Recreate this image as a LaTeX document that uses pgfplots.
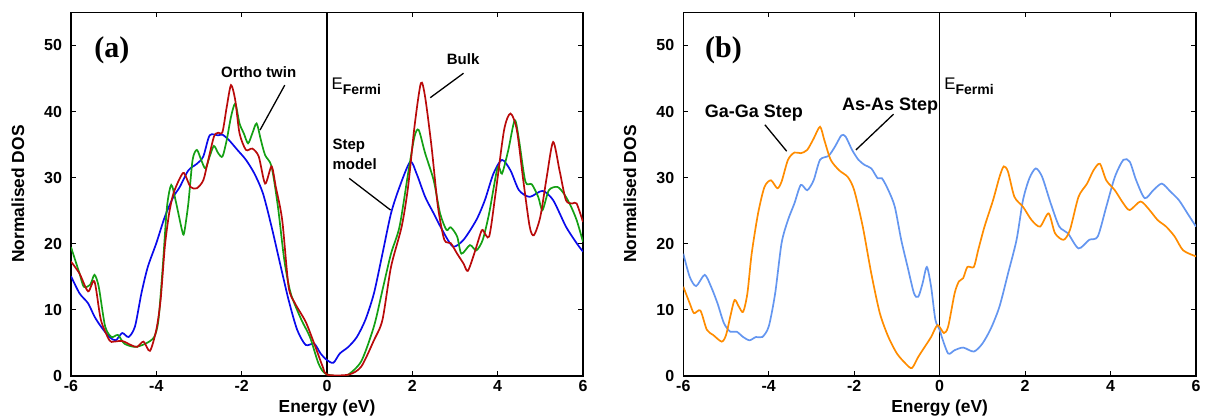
\documentclass[border=0pt]{standalone}
\usepackage{pgfplots}
\pgfplotsset{compat=1.18}
\usepackage{fontspec}
\setmainfont{Liberation Sans}
\newfontfamily\timesf{Liberation Serif}
\definecolor{bulkred}{RGB}{185,10,10}
\definecolor{orthogreen}{RGB}{20,160,20}
\definecolor{stepblue}{RGB}{10,10,235}
\definecolor{gaorange}{RGB}{255,140,0}
\definecolor{asblue}{RGB}{100,150,240}
\pgfplotsset{
  dosaxis/.style={
    scale only axis, height=181.8pt,
    xmin=-6, xmax=6, ymin=0, ymax=55,
    xtick={-6,-4,-2,0,2,4,6}, xticklabels={-6,-4,-2,0,2,4,6},
    ytick={0,10,20,30,40,50}, yticklabels={0,10,20,30,40,50},
    xtick pos=both, ytick pos=both,
    xticklabel pos=lower, yticklabel pos=left,
    tick align=inside, major tick length=2.5pt,
    axis line style={line width=0.75pt},
    every tick/.style={black, line width=0.6pt},
    tick label style={font=\bfseries\fontsize{8}{9}\selectfont},
    xticklabel style={yshift=1.5pt},
    yticklabel style={xshift=-1pt},
    anchor=south west,
    every axis plot/.append style={line width=0.85pt, smooth, tension=0.45, mark=none},
  },
}
\tikzset{ann/.style={font=\bfseries\fontsize{7.5}{9}\selectfont, inner sep=0pt},
         annb/.style={font=\bfseries\fontsize{9}{10}\selectfont, inner sep=0pt}}
\newcommand{\efermi}{{\fontsize{8.4}{10}\selectfont E\raisebox{-2.9pt}{\bfseries\fontsize{7}{8}\selectfont Fermi}}}
\begin{document}
\begin{tikzpicture}
\path[use as bounding box] (0,0) rectangle (604.5pt,208.5pt);
% ---------------- panel (a)
\begin{axis}[dosaxis, width=256pt, at={(35.5pt,20.5pt)}]
\addplot[black, line width=0.75pt, sharp plot] coordinates {(0,0) (0,55)};
% Step model (blue)
\addplot[stepblue] coordinates {
(-6,15.1) (-5.8,12.5) (-5.6,11) (-5.45,9) (-5.3,7.5) (-5.1,5.9) (-4.95,5.4) (-4.8,6.5) (-4.65,5.9) (-4.5,7.5)
(-4.35,12.5) (-4.2,16.5) (-4.0,20.1) (-3.8,24.1) (-3.6,27.1) (-3.45,28.6) (-3.25,31.1) (-3.05,32.1) (-2.9,33.2)
(-2.75,36.4) (-2.55,36.4) (-2.45,36.5) (-2.3,35.7) (-2.1,34.2) (-1.9,32.7) (-1.7,30.6) (-1.5,27.6) (-1.3,22.6)
(-1.1,17) (-0.9,11.5) (-0.7,7) (-0.5,4.7) (-0.3,4.9) (-0.15,3.4) (0,2.4) (0.15,2.0) (0.3,3.4) (0.5,4.4) (0.7,5.9)
(0.9,8.5) (1.1,12.5) (1.3,18.5) (1.5,24.6) (1.7,28.6) (1.95,32.4) (2.1,30.6) (2.3,27.1) (2.5,24.6) (2.7,22.1)
(2.95,19.6) (3.2,20.6) (3.5,23.6) (3.7,26.6) (3.9,30.6) (4.1,32.7) (4.3,31.1) (4.5,28.1) (4.75,27.1) (5.05,28)
(5.3,26.6) (5.6,22.6) (5.85,20.1) (6,18.8)};
% Ortho twin (green)
\addplot[orthogreen] coordinates {
(-6,19.5) (-5.8,15.5) (-5.7,13.5) (-5.55,13.8) (-5.45,15.3) (-5.35,13.5) (-5.2,7.5) (-5.05,5.9) (-4.9,6.2)
(-4.75,4.9) (-4.5,4.4) (-4.25,4.9) (-4.05,5.9) (-3.95,8.5) (-3.85,16.5) (-3.75,25.6) (-3.65,28.9) (-3.55,26.6)
(-3.4,22.1) (-3.35,21.6) (-3.25,26.1) (-3.15,32.7) (-3.05,34.2) (-2.95,32.7) (-2.85,31.4) (-2.75,33.2)
(-2.65,34.8) (-2.55,33.7) (-2.45,33.2) (-2.35,35.7) (-2.25,39.2) (-2.15,41.2) (-2.05,38.2) (-1.95,36.7)
(-1.85,35.2) (-1.75,36.7) (-1.65,38.2) (-1.55,35.7) (-1.45,33.4) (-1.3,31.7) (-1.15,25.6) (-1.0,17.5)
(-0.85,12.5) (-0.6,8.5) (-0.4,5.9) (-0.2,1.9) (-0.05,0.4) (0.2,0) (0.45,0) (0.8,2.2) (1.1,7.5) (1.3,13) (1.5,18.5)
(1.7,22.6) (1.9,30.6) (2.05,36.2) (2.15,37.2) (2.3,33.7) (2.5,29.6) (2.65,24.6) (2.8,22.1) (2.9,22.5) (3.05,21.1)
(3.15,18.5) (3.35,19.8) (3.5,19) (3.65,20.6) (3.8,24.6) (4.0,31.6) (4.1,30.6) (4.25,34.2) (4.4,38.7) (4.5,35.7)
(4.65,29.4) (4.8,29) (4.95,27.1) (5.05,25.1) (5.2,28.1) (5.4,28.6) (5.55,27.6) (5.7,25.9) (5.85,23.6) (6,20.3)};
% Bulk (red)
\addplot[bulkred] coordinates {
(-6,17.3) (-5.8,15.5) (-5.6,12.8) (-5.45,14.3) (-5.3,8.5) (-5.1,5.4) (-5.0,5.2) (-4.8,5.3) (-4.6,4.7) (-4.45,4.4)
(-4.3,5.2) (-4.15,3.8) (-4.0,7) (-3.9,11.5) (-3.8,19.6) (-3.7,24.6) (-3.6,27.6) (-3.45,29.9) (-3.35,30.7)
(-3.2,28.6) (-3.05,28.4) (-2.9,29.6) (-2.8,32.2) (-2.65,36.2) (-2.55,36.8) (-2.45,36.9) (-2.35,40.7) (-2.25,44)
(-2.15,41.7) (-2.05,36.7) (-1.9,34.2) (-1.75,34.4) (-1.6,33.2) (-1.45,29.1) (-1.3,31.7) (-1.2,28.6) (-1.05,23.6)
(-0.9,13.5) (-0.75,11) (-0.5,8.2) (-0.3,4.9) (-0.1,1.4) (0,0.2) (0.5,0.2) (0.8,1.4) (1.1,5.4) (1.3,8.5) (1.5,16.5)
(1.75,22.6) (1.9,28.6) (2.05,37.7) (2.2,44.3) (2.3,42.2) (2.45,34.7) (2.6,25.6) (2.75,20.6) (2.9,20.1) (3.05,18.5)
(3.2,17) (3.3,15.9) (3.45,18.5) (3.6,21.6) (3.65,22.1) (3.8,21.1) (3.95,27.6) (4.15,37.2) (4.3,39.7) (4.45,37.2)
(4.6,29.6) (4.75,22.6) (4.85,21.3) (5.0,24.1) (5.15,30.1) (5.3,35.4) (5.45,31.1) (5.6,26.6) (5.75,26.1)
(5.85,26.1) (6,23.3)};
\node[anchor=base, inner sep=0pt, font=\timesf\bfseries\fontsize{15}{17}\selectfont] at (axis cs:-5.04,48.2) {(a)};
\node[ann, anchor=base] at (axis cs:-1.6,45.2) {Ortho twin};
\draw[black, line width=0.65pt] (axis cs:-0.99,44.0) -- (axis cs:-1.57,37.2);
\node[ann, anchor=base] at (axis cs:3.19,47.1) {Bulk};
\draw[black, line width=0.65pt] (axis cs:3.20,45.8) -- (axis cs:2.42,42.1);
\node[anchor=base west, inner sep=0pt] at (axis cs:0.1,43.4) {\efermi};
\node[ann, anchor=base west] at (axis cs:0.12,34.2) {Step};
\node[ann, anchor=base west] at (axis cs:0.12,31.2) {model};
\draw[black, line width=0.65pt] (axis cs:0.52,29.9) -- (axis cs:1.49,25.1);
\end{axis}
% ---------------- panel (b)
\begin{axis}[dosaxis, width=256.35pt, at={(341.65pt,20.5pt)}]
\addplot[black, line width=0.75pt, sharp plot] coordinates {(0,0) (0,55)};
% As-As step (light blue)
\addplot[asblue] coordinates {
(-6,18.5) (-5.85,15) (-5.7,13.6) (-5.5,15.3) (-5.35,13.5) (-5.2,11) (-5.05,8) (-4.9,6.7) (-4.75,6.7) (-4.6,5.9)
(-4.45,5.4) (-4.3,5.9) (-4.15,5.9) (-4.0,7.5) (-3.85,12.5) (-3.7,20.1) (-3.55,23.6) (-3.4,26.1) (-3.25,28.9)
(-3.1,28.1) (-2.95,29.6) (-2.8,32.7) (-2.6,33.3) (-2.45,34.7) (-2.3,36.4) (-2.2,36.2) (-2.05,34.2) (-1.9,32.7)
(-1.75,31.9) (-1.6,31.4) (-1.45,29.9) (-1.35,29.9) (-1.2,28.1) (-1.05,25.6) (-0.9,20.6) (-0.75,16.5) (-0.6,12.5)
(-0.5,12) (-0.4,14) (-0.3,16.5) (-0.2,13.5) (-0.1,8.5) (0,7) (0.05,5.9) (0.2,3.4) (0.35,3.9) (0.55,4.3) (0.8,3.7)
(1.0,4.9) (1.2,7.2) (1.4,10.5) (1.6,15.5) (1.8,20.6) (1.95,26.6) (2.1,29.9) (2.25,31.4) (2.4,30.1) (2.6,26.1)
(2.8,22.6) (3.0,21.6) (3.25,19.3) (3.5,20.6) (3.7,21.1) (3.9,25.6) (4.1,30.1) (4.3,32.7) (4.45,32.4) (4.6,29.6)
(4.8,26.9) (5.0,28.1) (5.2,29.1) (5.4,27.9) (5.6,26.6) (5.8,24.6) (6,22.6)};
% Ga-Ga step (orange)
\addplot[gaorange] coordinates {
(-6,13.5) (-5.85,11) (-5.75,9.5) (-5.6,9.9) (-5.45,7) (-5.3,6.2) (-5.1,5.2) (-5.0,6.2) (-4.9,9) (-4.8,11.5)
(-4.7,10.5) (-4.6,9.7) (-4.5,12.5) (-4.4,18.5) (-4.25,24.6) (-4.1,28.6) (-3.95,29.6) (-3.8,28.4) (-3.7,29.4)
(-3.55,32.7) (-3.4,33.8) (-3.25,33.7) (-3.1,34.2) (-2.95,35.9) (-2.8,37.7) (-2.7,35.7) (-2.55,32.7) (-2.35,31.1)
(-2.15,30.1) (-2.0,28.1) (-1.8,22.6) (-1.6,15.5) (-1.4,9.5) (-1.2,5.9) (-1.0,3.4) (-0.8,1.9) (-0.65,1.2)
(-0.5,2.9) (-0.35,4.4) (-0.2,5.9) (-0.05,7.7) (0.1,6.5) (0.2,7.5) (0.35,12.5) (0.45,14.3) (0.55,14.8) (0.65,16.5)
(0.8,16.5) (0.9,19) (1.05,22.6) (1.25,26.6) (1.4,30.1) (1.5,31.7) (1.6,30.9) (1.75,27.1) (1.95,25.6) (2.15,23.6)
(2.35,22.6) (2.55,24.6) (2.7,21.6) (2.9,20.6) (3.05,22.1) (3.25,27.1) (3.45,29.1) (3.6,31.1) (3.75,32.1)
(3.9,29.6) (4.1,28.1) (4.3,26.1) (4.45,25.1) (4.7,26.4) (4.9,25.2) (5.1,23.6) (5.3,22.6) (5.5,21.1) (5.7,19)
(6,18.1)};
\node[anchor=base, inner sep=0pt, font=\timesf\bfseries\fontsize{15}{17}\selectfont] at (axis cs:-5.06,48.2) {(b)};
\node[annb, anchor=base] at (axis cs:-4.35,39.1) {Ga-Ga Step};
\draw[black, line width=0.65pt] (axis cs:-4.09,38.0) -- (axis cs:-3.58,34.0);
\node[annb, anchor=base] at (axis cs:-1.16,40.1) {As-As Step};
\draw[black, line width=0.65pt] (axis cs:-1.08,39.6) -- (axis cs:-1.96,34.2);
\node[anchor=base west, inner sep=0pt] at (axis cs:0.1,43.4) {\efermi};
\end{axis}
% axis labels
\node[rotate=90, font=\bfseries\fontsize{8.7}{10}\selectfont] at (9pt,111.5pt) {Normalised DOS};
\node[font=\bfseries\fontsize{8.7}{10}\selectfont] at (163.5pt,4.5pt) {Energy (eV)};
\node[rotate=90, font=\bfseries\fontsize{8.7}{10}\selectfont] at (315pt,111.5pt) {Normalised DOS};
\node[font=\bfseries\fontsize{8.7}{10}\selectfont] at (469.8pt,4.5pt) {Energy (eV)};
\end{tikzpicture}
\end{document}
